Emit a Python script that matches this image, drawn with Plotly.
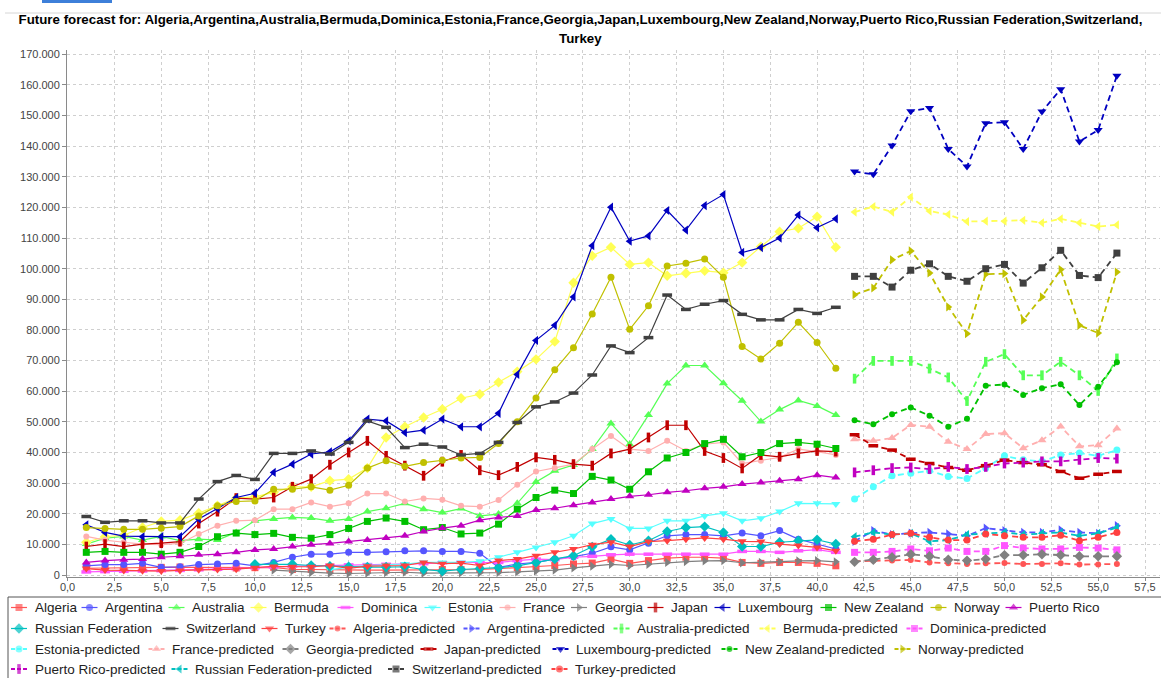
import plotly.graph_objects as go

# ---------------- data ----------------
x_hist = list(range(1, 42))
x_pred = list(range(42, 57))

algeria = [2200, 2300, 2300, 2400, 2500, 2600, 2500, 2400, 2300, 2400, 2500, 1800, 1800, 1700, 1500, 1600, 1600, 1600, 1600, 1800,
           1750, 1800, 2100, 2400, 2700, 3100, 3600, 3900, 5200, 3800, 4700, 5500, 5800, 5800, 5500, 4100, 3800, 4100, 4100, 3800, 3000]
argentina = [3000, 3400, 3400, 3800, 2500, 2700, 3400, 3600, 3800, 3000, 4100, 5800, 6800, 6800, 7400, 7400, 7600, 7900, 7900, 7700,
             7700, 7100, 2500, 3600, 4100, 5200, 6000, 7100, 9200, 8200, 10400, 12800, 13200, 13200, 12800, 13700, 12800, 14500, 11700, 10100, 8500]
australia = [10100, 12000, 12600, 11400, 12600, 11200, 11700, 11400, 13900, 17700, 18300, 18800, 18600, 17700, 18300, 20700, 21800, 23400, 21500, 20400,
             21700, 19300, 19900, 23400, 30400, 34000, 35900, 41100, 49500, 42700, 52200, 62500, 68400, 68400, 62600, 56900, 50100, 54000, 57000, 55200, 52200]
bermuda = [10700, 12500, 13000, 15500, 17500, 17900, 20200, 22600, 25100, 25500, 27000, 28800, 28800, 30800, 31300, 34900, 44900, 48400, 51400, 54100,
           57700, 59000, 62900, 66400, 70400, 76200, 95400, 104200, 107000, 101400, 102000, 97700, 98500, 99300, 98700, 102000, 107200, 112100, 113200, 117000, 107000]
dominica = [1000, 1100, 1200, 1300, 1400, 1500, 1700, 1900, 2100, 2400, 2600, 2900, 3000, 3100, 3300, 3400, 3500, 3600, 3700, 4000,
            4100, 4000, 4100, 4700, 5200, 5000, 5800, 6100, 6600, 6800, 6800, 6800, 6800, 6800, 6800, 7700, 7700, 7400, 7900, 8300, 7400]
estonia = [None, None, None, None, None, None, None, None, None, None, None, None, None, 1700, 2600, 3100, 3300, 3600, 4100, 4100,
           4100, 4500, 5800, 7400, 9000, 10700, 12800, 16800, 18300, 15200, 15200, 17700, 17700, 19300, 20200, 17700, 18500, 20700, 23400, 23400, 23200]
france = [12600, 11400, 10700, 10100, 9900, 10300, 13400, 16100, 17700, 17900, 21500, 21500, 23700, 22300, 23400, 26600, 26600, 24000, 25000, 24600,
          22600, 22300, 24500, 29500, 33800, 34900, 36200, 41100, 45400, 41100, 40500, 43800, 40500, 42700, 43300, 36400, 37300, 38400, 41100, 40300, 39200]
georgia = [None, None, None, None, None, None, None, None, None, None, 1600, 1300, 800, 600, 500, 600, 800, 900, 600, 600,
           700, 700, 800, 1000, 1300, 1600, 2300, 2900, 3500, 3100, 3500, 4100, 4400, 4600, 4700, 4000, 4100, 4400, 4600, 4700, 4300]
japan = [9300, 10100, 9300, 10100, 10400, 10900, 16800, 20700, 25100, 24800, 25300, 28800, 31300, 36000, 40000, 43800, 38900, 35700, 32400, 37000,
         39200, 34200, 32600, 35300, 38400, 37600, 36200, 35700, 39700, 41100, 44900, 48900, 48900, 40500, 38200, 34800, 39200, 38600, 39700, 40500, 40300]
luxembourg = [16400, 13900, 12700, 12500, 12500, 12500, 18300, 21700, 25300, 26700, 33500, 36200, 39500, 40200, 43800, 50900, 50300, 46500, 47300, 50900,
              48400, 48400, 52800, 65500, 76600, 81500, 90800, 107500, 120100, 109000, 110700, 119000, 112600, 120600, 124200, 105300, 106900, 110000, 117500, 113400, 116300]
new_zealand = [7400, 7700, 7400, 7400, 6800, 7400, 9300, 12500, 13700, 13200, 13600, 12300, 12000, 13200, 15200, 17500, 18600, 17500, 14800, 15500,
               13400, 13700, 16600, 21500, 25300, 27700, 26600, 32200, 31000, 28000, 33700, 38200, 40000, 42900, 44300, 38600, 40000, 42900, 43300, 42700, 41300]
norway = [15500, 15200, 14900, 14900, 15300, 15800, 19300, 22600, 24000, 24200, 28000, 28000, 28800, 27700, 29300, 34900, 37300, 35500, 36700, 37500,
          38200, 38400, 42900, 50000, 57800, 67000, 74200, 85200, 97200, 80200, 87900, 100900, 101800, 103200, 97200, 74600, 70500, 75700, 82500, 75900, 67500]
puerto_rico = [4100, 4700, 5000, 5200, 5800, 6100, 6600, 6800, 7400, 8200, 8500, 9300, 9900, 10300, 10900, 11400, 12100, 12800, 14200, 15300,
               16100, 17900, 18800, 19300, 21200, 21800, 22800, 23700, 24800, 25700, 26200, 27000, 27500, 28300, 28800, 29700, 30200, 30800, 31300, 32600, 31800]
russia = [None, None, None, None, None, None, None, None, None, 3500, 3500, 3500, 3100, 2900, 2700, 2600, 2600, 2700, 1800, 1300,
          1800, 2100, 2400, 3000, 4100, 5200, 6300, 9200, 11700, 9800, 11200, 14200, 15500, 15800, 13900, 9300, 9300, 10700, 11200, 11500, 10100]
switzerland = [19100, 17200, 17700, 17700, 17000, 17000, 24800, 30500, 32500, 31200, 39700, 39700, 40500, 39500, 43300, 50300, 48200, 41600, 42700, 41800,
               39200, 39700, 43300, 49800, 54900, 56500, 59400, 65300, 74800, 72600, 77500, 91400, 86700, 88400, 89600, 85100, 83300, 83300, 86700, 85400, 87400]
turkey = [2100, 1600, 1500, 1400, 1300, 1500, 1700, 1800, 1900, 2400, 2800, 2700, 2700, 3100, 2200, 2900, 3100, 3100, 4100, 3700,
          3900, 3100, 4700, 5200, 6300, 7400, 8500, 9900, 10700, 9300, 10900, 11200, 11700, 12100, 11700, 11000, 10900, 10100, 9600, 9000, 7900]

algeria_pred = [4500, 4700, 4700, 4900, 4100, 3800, 3600, 3800, 3900, 3600, 3600, 3800, 3400, 3400, 3600]
argentina_pred = [11000, 14500, 13200, 13700, 13900, 13400, 12800, 15300, 14500, 13900, 13900, 14700, 13900, 13600, 16100]
australia_pred = [64100, 69900, 69900, 69900, 67400, 64500, 56800, 69600, 72100, 65200, 65200, 69600, 65200, 60100, 70700]
bermuda_pred = [118500, 120300, 118500, 123400, 118800, 117700, 115400, 115500, 115500, 115800, 115000, 116300, 115000, 113800, 114300]
dominica_pred = [7400, 7400, 7700, 8500, 7900, 8800, 7700, 7700, 9600, 8800, 8500, 8500, 9000, 8800, 8200]
estonia_pred = [24800, 28800, 32400, 33200, 34000, 32200, 31500, 34900, 38900, 37600, 37100, 39200, 39800, 38900, 40800]
france_pred = [44300, 43800, 44700, 49000, 48400, 43500, 41100, 46000, 46300, 41400, 44000, 48500, 42000, 42400, 47800]
georgia_pred = [4300, 5000, 5800, 6800, 6100, 5000, 4700, 5200, 6500, 6500, 6800, 6500, 6100, 6100, 6100]
japan_pred = [45800, 42200, 40800, 37800, 36400, 35100, 34200, 35700, 37500, 36700, 36000, 33800, 31600, 32900, 33800]
luxembourg_pred = [131700, 130800, 140200, 151400, 152500, 139100, 133400, 147500, 147800, 139100, 151300, 158600, 141500, 145300, 163000]
new_zealand_pred = [50500, 49200, 52500, 54700, 52000, 48400, 51000, 61800, 62200, 58800, 61000, 62300, 55500, 61500, 69500]
norway_pred = [91500, 93700, 102900, 105800, 98600, 87500, 78800, 98200, 98400, 83200, 90800, 99700, 81500, 79000, 98900]
puerto_rico_pred = [33500, 34200, 34900, 35100, 34600, 35300, 34600, 35300, 36400, 36700, 37100, 37100, 37600, 38200, 38000]
russia_pred = [12500, 13900, 13200, 13600, 11000, 11400, 13200, 13600, 13900, 13200, 13600, 13900, 12800, 13600, 15500]
switzerland_pred = [97500, 97500, 94000, 99500, 101600, 97500, 95900, 100000, 101400, 95300, 100300, 106000, 97800, 97100, 105100]
turkey_pred = [11000, 11700, 13200, 13600, 12300, 11400, 11400, 13400, 12800, 12300, 12300, 13000, 11200, 12300, 13900]

countries = ["Algeria", "Argentina", "Australia", "Bermuda", "Dominica", "Estonia", "France", "Georgia",
             "Japan", "Luxembourg", "New Zealand", "Norway", "Puerto Rico", "Russian Federation", "Switzerland", "Turkey"]
hist_series = [algeria, argentina, australia, bermuda, dominica, estonia, france, georgia,
               japan, luxembourg, new_zealand, norway, puerto_rico, russia, switzerland, turkey]
pred_series = [algeria_pred, argentina_pred, australia_pred, bermuda_pred, dominica_pred, estonia_pred, france_pred, georgia_pred,
               japan_pred, luxembourg_pred, new_zealand_pred, norway_pred, puerto_rico_pred, russia_pred, switzerland_pred, turkey_pred]

# ---------------- styles ----------------
colors = ["#FF5555", "#5555FF", "#55FF55", "#FFFF55", "#FF55FF", "#55FFFF", "#FFAFAF", "#808080",
          "#C00000", "#0000C0", "#00C000", "#C0C000", "#C000C0", "#00C0C0", "#404040", "#FF4040"]
shape_cycle = ["square", "circle", "triangle-up", "diamond", "line-ew", "triangle-down",
               "ellipse", "triangle-right", "line-ns", "triangle-left"]
sizes = {"square": 7, "circle": 7, "triangle-up": 8, "diamond": 8, "line-ew": 7, "triangle-down": 8,
         "ellipse": 6, "triangle-right": 8, "line-ns": 7, "triangle-left": 8}
HIST_DASH, PRED_DASH = "solid", "6px,4px"
FONT = "Liberation Sans, Arial, sans-serif"


def marker_for(idx, color):
    s = shape_cycle[idx % len(shape_cycle)]
    if s in ("line-ew", "line-ns"):
        return dict(symbol=s, size=sizes[s], color=color, line=dict(width=3.5, color=color))
    sym = "circle" if s == "ellipse" else s
    return dict(symbol=sym, size=sizes[s], color=color, line=dict(width=0))


# ---------------- page geometry (pixels) ----------------
W, H = 1161, 678
PLOT_L, PLOT_R, PLOT_T, PLOT_B = 67, 1160, 50, 577
LEG_TOP = 590
legend_rows_y = [607.5, 628.5, 649, 669]
legend_text_x = [
    [32.5, 103, 190, 272, 359, 446, 521, 592.5, 669, 736, 842, 952, 1027],
    [32.5, 184, 283, 351, 485, 635, 781, 928],
    [32.5, 170, 304, 442, 574, 743, 916],
    [32.5, 193, 409.5, 573],
]

fig = go.Figure()
for i, (name, ys) in enumerate(zip(countries, hist_series)):
    fig.add_trace(go.Scatter(x=x_hist, y=ys, name=name, mode="lines+markers",
                             line=dict(color=colors[i], width=1.2, dash=HIST_DASH),
                             marker=marker_for(i, colors[i]), showlegend=False))
for i, (name, ys) in enumerate(zip(countries, pred_series)):
    fig.add_trace(go.Scatter(x=x_pred, y=ys, name=name + "-predicted", mode="lines+markers",
                             line=dict(color=colors[i], width=1.8, dash=PRED_DASH),
                             marker=marker_for(i + 16, colors[i]), showlegend=False))

# ---------------- legend (drawn in its own subplot below the chart) ----------------
legend_names = countries + [c + "-predicted" for c in countries]
annotations = []
k = 0
for r, xs in enumerate(legend_text_x):
    ry = legend_rows_y[r]
    for tx in xs:
        ci = k % 16
        mx = tx - 13.5
        m = marker_for(k, colors[ci])
        fig.add_trace(go.Scatter(
            x=[mx - 8, mx, mx + 8], y=[ry, ry, ry], xaxis="x2", yaxis="y2",
            mode="lines+markers", hoverinfo="skip", showlegend=False, cliponaxis=False,
            line=dict(color=colors[ci], width=1.2 if k < 16 else 1.8, dash=HIST_DASH if k < 16 else "4px,2px"),
            marker={**m, "size": [0, m["size"], 0]}))
        annotations.append(dict(text=legend_names[k], x=tx, y=ry, xref="x2", yref="y2",
                                xanchor="left", yanchor="middle", showarrow=False,
                                font=dict(family=FONT, size=13.5, color="#222222")))
        k += 1

# second title line (the original wraps after "Switzerland,")
annotations.append(dict(text="<b>" + countries[-1] + "</b>", x=0.5, y=(H - 38) / H, xref="paper", yref="paper",
                        xanchor="center", yanchor="middle", showarrow=False,
                        font=dict(family=FONT, size=13.3, color="#000000")))
title_text = "<b>Future forecast for: " + ",".join(countries[:-1]) + ",</b>"

axis_common = dict(showgrid=True, gridcolor="#cfcfcf", griddash="dot", gridwidth=1,
                   zeroline=False, showline=True, linecolor="#8a8a8a", linewidth=1,
                   ticks="outside", tickcolor="#8a8a8a",
                   tickfont=dict(family=FONT, size=11, color="#444444"))

fig.update_layout(
    width=W, height=H,
    margin=dict(l=0, r=0, t=0, b=0, autoexpand=False),
    paper_bgcolor="white", plot_bgcolor="white",
    separators=",.",
    showlegend=False,
    font=dict(family=FONT, size=11, color="#333333"),
    title=dict(text=title_text, x=0.5, xref="container", xanchor="center",
               y=1 - 19 / H, yref="container", yanchor="middle",
               font=dict(family=FONT, size=13.3, color="#000000")),
    xaxis=dict(domain=[PLOT_L / W, PLOT_R / W], anchor="y",
               range=[-0.03, 58.3], dtick=2.5, tick0=0, tickformat=".1f",
               ticklen=3, ticklabelstandoff=-3, **axis_common),
    yaxis=dict(domain=[(H - PLOT_B) / H, (H - PLOT_T) / H], anchor="x",
               range=[-650, 171400], dtick=10000, tick0=0, tickformat=",d",
               ticklen=4, **axis_common),
    xaxis2=dict(domain=[0, 1], anchor="y2", range=[0, W], visible=False, fixedrange=True),
    yaxis2=dict(domain=[0, (H - LEG_TOP) / H], anchor="x2", range=[H, LEG_TOP], visible=False, fixedrange=True),
    annotations=annotations,
)

# legend frame and decorative window lines
fig.add_shape(type="rect", xref="paper", yref="paper",
              x0=8 / W, x1=1.02, y0=-0.05, y1=(H - 597) / H,
              line=dict(color="#555555", width=1), fillcolor="rgba(0,0,0,0)", layer="below")
fig.add_shape(type="rect", xref="paper", yref="paper",
              x0=42 / W, x1=112 / W, y0=(H - 3) / H, y1=1,
              fillcolor="#3d7fd9", line=dict(width=0))
fig.add_shape(type="line", xref="paper", yref="paper",
              x0=5 / W, x1=1, y0=(H - 13) / H, y1=(H - 13) / H,
              line=dict(color="#d6d6d6", width=1))

fig.write_html("out.html", config={"displayModeBar": False},
               post_script="document.body.style.margin='0';document.body.style.overflow='hidden';")
